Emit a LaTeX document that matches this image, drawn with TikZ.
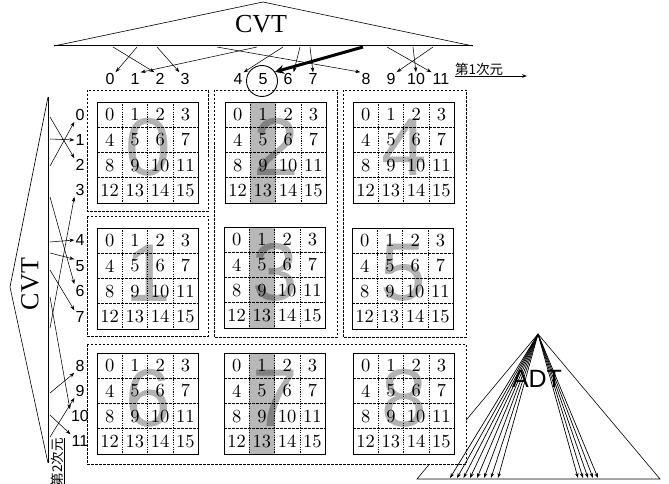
\documentclass[tikz,border=0pt]{standalone}
\usepackage{fontspec}
\newfontfamily\sansf{Liberation Sans}
\newfontfamily\seriff{Liberation Serif}
\newfontfamily\cellf{lmroman10-regular.otf}
\newfontfamily\cjk{Noto Sans CJK JP}
\usetikzlibrary{arrows.meta}

\tikzset{
  grpbox/.style={draw, line width=0.6pt, dash pattern=on 2.5pt off 1.5pt, fill=white},
  gridframe/.style={draw, line width=0.8pt},
  vdiv/.style={line width=0.5pt, dash pattern=on 1.2pt off 1.2pt},
  hdiv/.style={line width=0.9pt, dash pattern=on 2.5pt off 1.5pt},
  colshade/.style={fill=black!28},
  bigdigit/.style={font=\sansf\fontsize{82}{82}\selectfont, text=black, text opacity=0.3, inner sep=0pt},
  cellnum/.style={font=\cellf\fontsize{18.5}{18.5}\selectfont, inner sep=0pt},
  axisnum/.style={font=\sansf\fontsize{16}{16}\selectfont, inner sep=1pt},
  treeline/.style={line width=0.6pt},
  cvtarrow/.style={line width=0.55pt, -{Stealth[length=5pt,width=3.6pt]}},
  adtarrow/.style={line width=0.7pt, -{Stealth[length=5pt,width=3.6pt]}},
  bigarrow/.style={line width=3pt, -{Stealth[length=9pt,width=9pt]}},
  axislabel/.style={font=\cjk\fontsize{13.5}{13.5}\selectfont, inner sep=0pt},
}

% one 4x4 block: #1 name, #2 x, #3 y, #4 large digit, #5 shaded second column (1/0)
\newcommand\cellblock[5]{%
  \begin{scope}[shift={(#2,#3)}]
    \ifnum#5=1 \fill[colshade] (25.25,0) rectangle (50.5,101); \fi
    \node[bigdigit] (#1-big) at (51,45) {#4};
    \foreach \k in {1,2,3} {
      \draw[vdiv] (\k*25.25,0) -- (\k*25.25,101);
      \draw[hdiv] (0,\k*25.25) -- (101,\k*25.25);
    }
    \draw[gridframe] (0,0) rectangle (101,101);
    \foreach \n in {0,...,15} {
      \pgfmathtruncatemacro\colidx{mod(\n,4)}
      \pgfmathtruncatemacro\rowidx{div(\n,4)}
      \node[cellnum] (#1-\n) at ({(\colidx+0.5)*25.25},{(\rowidx+0.5)*25.25}) {\n};
    }
  \end{scope}}

\begin{document}
\begin{tikzpicture}[x=1pt,y=-1pt]
  \useasboundingbox (0,0) rectangle (669,484);
  \clip (0,0) rectangle (669,484);

  % ADT tree (partly hidden behind the block groups)
  \coordinate (adttop) at (538,334);
  \coordinate (adtl) at (417,479);
  \coordinate (adtr) at (660,479);
  \draw[treeline] (adtl) -- (adttop) -- (adtr) -- cycle;

  % groups of blocks
  \draw[grpbox] (87,90) rectangle (208,211);
  \draw[grpbox] (87,216) rectangle (208,336);
  \draw[grpbox] (214,90) rectangle (337,337);
  \draw[grpbox] (343,90) rectangle (466,337);
  \draw[grpbox] (87,344) rectangle (466,464);

  % blocks
  \cellblock{b0}{97}{102}{0}{0}
  \cellblock{b1}{97}{228}{1}{0}
  \cellblock{b2}{225}{102}{2}{1}
  \cellblock{b3}{224}{227}{3}{1}
  \cellblock{b4}{353}{102}{4}{0}
  \cellblock{b5}{352}{228}{5}{0}
  \cellblock{b6}{97}{353}{6}{0}
  \cellblock{b7}{224}{353}{7}{1}
  \cellblock{b8}{353}{353}{8}{0}

  % ADT label and fan of arrows
  \node[font=\sansf\fontsize{25}{25}\selectfont, inner sep=0pt] (adt) at (537,379) {ADT};
  \foreach \ex [count=\i] in {450,457,463.5,470,477,484,491,498} {
    \coordinate (adtl\i) at (\ex,478);
    \draw[adtarrow] (adttop) -- (adtl\i);
  }
  \foreach \ex [count=\i] in {578,583,588,593,598} {
    \coordinate (adtr\i) at (\ex,478);
    \draw[adtarrow] (adttop) -- (adtr\i);
  }

  % top CVT
  \draw[treeline] (54,46) -- (263,2) -- (473,46);
  \draw[line width=1pt] (54,46) -- (473,46);
  \node[font=\seriff\fontsize{26}{26}\selectfont, inner sep=0pt] (cvttop) at (261,24) {CVT};

  % first dimension labels
  \foreach \lx [count=\i from 0] in {110,135,160,185,238,263,288,313,366,391,416,441} {
    \node[axisnum] (c\i) at (\lx,79) {\i};
  }
  \node[draw, circle, line width=0.9pt, minimum size=31pt, inner sep=0pt] (circ) at (262,81) {};
  \node[axislabel, anchor=south west] (dim1) at (455,76) {第1次元};
  \draw[line width=0.7pt, -{Stealth[length=5pt,width=3.6pt]}] (dim1.south west) -- ++(72,0);

  \coordinate (t0) at (113,47);  \draw[cvtarrow] (t0) -- (c2.north west);
  \coordinate (t1) at (137,47);  \draw[cvtarrow] (t1) -- (c0.north east);
  \coordinate (t2) at (157,47);  \draw[cvtarrow] (t2) -- (c3.north west);
  \coordinate (t3) at (257,47);  \draw[cvtarrow] (t3) -- (c1.north east);
  \coordinate (t4) at (217,47);  \draw[cvtarrow] (t4) -- (c8.north west);
  \coordinate (t5) at (283,47);  \draw[cvtarrow] (t5) -- (c4.north east);
  \coordinate (t6) at (300,47);  \draw[cvtarrow] (t6) -- (c6.north east);
  \coordinate (t7) at (310,47);  \draw[cvtarrow] (t7) -- (c7.north);
  \coordinate (t8) at (387,47);  \draw[cvtarrow] (t8) -- (c11.north west);
  \coordinate (t9) at (413,47);  \draw[cvtarrow] (t9) -- (c10.north);
  \coordinate (t10) at (433,47); \draw[cvtarrow] (t10) -- (c9.north east);
  \coordinate (t11) at (363,47); \draw[bigarrow] (t11) -- (circ.35);

  % left CVT
  \draw[treeline] (48,97) -- (10,287) -- (48,463);
  \draw[line width=0.9pt] (48,97) -- (48,463);
  \node[font=\seriff\fontsize{26}{26}\selectfont, inner sep=0pt, rotate=90] (cvtleft) at (30,284) {CVT};

  % second dimension labels
  \foreach \ly [count=\i from 0] in {115,140,165,190,240,266,291,317,366,391,416,441} {
    \node[axisnum] (r\i) at (80,\ly) {\i};
  }
  \node[axislabel, rotate=90, anchor=north east] (dim2) at (51,438) {第2次元};
  \draw[line width=0.7pt, -{Stealth[length=5pt,width=3.6pt]}] (dim2.south east) -- ++(0,60);

  \coordinate (s0) at (50,166); \draw[cvtarrow] (s0) -- (r0.south west);
  \coordinate (s1) at (50,139); \draw[cvtarrow] (s1) -- (r1.west);
  \coordinate (s2) at (50,117); \draw[cvtarrow] (s2) -- (r2.north west);
  \coordinate (s3) at (50,328); \draw[cvtarrow] (s3) -- (r3.south west);
  \coordinate (s4) at (50,242); \draw[cvtarrow] (s4) -- (r4.west);
  \coordinate (s5) at (50,253); \draw[cvtarrow] (s5) -- (r5.north west);
  \coordinate (s6) at (50,197); \draw[cvtarrow] (s6) -- (r6.north west);
  \coordinate (s7) at (50,270); \draw[cvtarrow] (s7) -- (r7.north west);
  \coordinate (s8) at (50,393); \draw[cvtarrow] (s8) -- (r8.south west);
  \coordinate (s9) at (50,437); \draw[cvtarrow] (s9) -- (r9.south west);
  \coordinate (s10) at (50,297); \draw[cvtarrow] (s10) -- (r10.north west);
  \coordinate (s11) at (50,415); \draw[cvtarrow] (s11) -- (r11.north west);
\end{tikzpicture}
\end{document}
